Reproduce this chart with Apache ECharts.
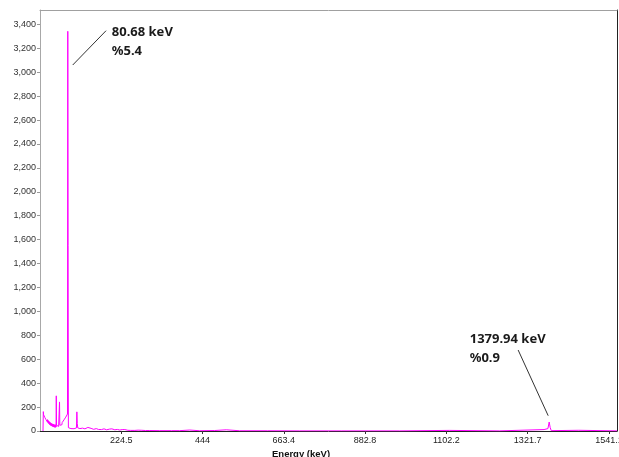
<!DOCTYPE html>
<html><head><meta charset="utf-8">
<script src="https://cdn.jsdelivr.net/npm/echarts@6/dist/echarts.min.js"></script>
<style>html,body{margin:0;padding:0;background:#fff}#c{width:619px;height:457px}</style>
</head><body><div id="c"></div>
<script>
// Spectrum: energy (keV) and counts
const energyKeV = [13.2,
  14.0, 14.8, 15.6, 16.4, 17.2, 18.0, 18.8, 19.6, 20.4, 21.2, 22.0, 22.8, 23.6, 24.4, 25.2, 26.0, 26.8, 27.6, 28.4, 29.2, 30.0, 30.8, 31.6, 32.4, 33.2, 34.0, 34.8, 35.6, 36.4, 37.2, 38.0, 38.8, 39.6, 40.4, 41.2, 42.0, 42.8, 43.6, 44.4, 45.2, 46.0, 46.8, 47.6, 48.4,
  49.0, 49.8, 50.6, 51.4, 52.2, 53.0, 53.8, 54.6, 55.4, 56.2, 57.0, 57.8, 58.6, 59.4, 60.2, 61.0, 61.8, 62.6, 63.4, 64.2, 65.0, 65.8, 66.6, 67.4, 68.2, 69.0, 69.8, 70.6, 71.4, 72.2, 73.0, 73.8, 74.6, 75.4, 76.2, 77.0, 77.8, 78.6, 79.3, 80.1, 80.9, 81.7,
  83.2, 85.5, 88.6, 91.0, 94.0, 97.0, 99.4, 103.5, 104.6, 105.7, 107.0, 110.0, 112.9, 116.0, 120, 123, 126.4, 130, 134.4, 137, 139.8, 143, 146, 150, 153.3, 157, 160, 163, 166.8, 171, 174.9, 178, 182, 185, 188.3, 193, 199.1, 203, 207.2, 211, 214, 217, 220.7, 227, 234.2, 238, 242.3, 250, 261.2, 270, 280, 290, 301.6, 328.5, 360, 382.4, 409.4, 436.3, 476.7, 508, 544, 620, 705, 820, 975, 1110, 1115, 1245, 1366, 1370, 1376.5, 1379.9, 1382.5, 1385.5, 1460, 1463, 1563];
const counts = [0,
  162, 136, 151, 125, 140, 114, 129, 104, 120, 95, 110, 86, 102, 78, 95, 72, 89, 66, 83, 60, 78, 55, 73, 51, 69, 47, 65, 44, 62, 41, 60, 39, 58, 37, 56, 34, 53, 32, 52, 31, 51, 31, 52, 33,
  294, 48, 36, 52, 38, 53, 39, 52, 38, 52, 42, 243, 48, 34, 52, 40, 58, 46, 64, 52, 71, 59, 78, 66, 86, 73, 93, 80, 100, 88, 108, 95, 116, 103, 124, 110, 132, 118, 142, 3342, 1550, 28,
  22, 26, 20, 25, 23, 19, 20, 26, 160, 62, 26, 22, 20, 25, 24, 18, 18, 24, 30, 15, 17, 22, 21, 14, 15, 20, 19, 13, 22, 12, 14, 18, 16, 10, 12, 16, 18, 9, 10, 14, 13, 7, 8, 12, 12, 5, 6, 5, 5, 7, 6, 4, 4, 3, 3, 3, 8, 2, 4, 10, 2, 2, 1, 1, 1, 5, 1, 1, 12, 2, 20, 75, 30, 3, 6, 1, 1];

const xTickValues = [224.5, 444.0, 663.4, 882.8, 1102.2, 1321.7, 1541.1];
const yTickValues = [0, 200, 400, 600, 800, 1000, 1200, 1400, 1600, 1800, 2000, 2200, 2400, 2600, 2800, 3000, 3200, 3400];

// Peak annotations (data coordinates: keV, counts)
const peakLabels   = ['80.68 keV\n%5.4', '1379.94 keV\n%0.9'];
const labelAnchors = [[198.9, 3410], [1165.3, 847]];
const leaderStarts = [[93.4, 3060], [1296.1, 677]];
const leaderEnds   = [[183.4, 3347], [1377.2, 128]];

const xMin = 5.07, xMax = 1563, yMin = 0, yMax = 3520;

const chart = echarts.init(document.getElementById('c'), null, {renderer: 'canvas'});
const fmtX = v => String(Number(v.toFixed(1)));
const fmtY = v => v.toLocaleString('en-US');

chart.setOption({
  animation: false,
  backgroundColor: '#ffffff',
  title: {
    text: 'Energy (keV)', left: 272, top: 449, padding: 0,
    textStyle: {fontSize: 9.5, fontWeight: 'bold', color: '#111', fontFamily: 'Liberation Sans, Arial, sans-serif'}
  },
  grid: {left: 40, right: 2, top: 10, bottom: 26, outerBoundsMode: 'none', containLabel: false},
  xAxis: [{
    type: 'value', min: xMin, max: xMax, position: 'bottom',
    axisLine: {show: true, onZero: false, lineStyle: {color: '#222', width: 1}},
    axisTick: {show: true, length: 3, customValues: xTickValues, lineStyle: {color: '#333'}},
    axisLabel: {show: true, customValues: xTickValues, formatter: fmtX, margin: 5, fontSize: 9, color: '#222', fontFamily: 'Liberation Sans, Arial, sans-serif', hideOverlap: false},
    splitLine: {show: false}
  }, {
    type: 'value', min: xMin, max: xMax, position: 'top',
    axisLine: {show: true, onZero: false, lineStyle: {color: '#a0a0a0', width: 1}},
    axisTick: {show: false}, axisLabel: {show: false}, splitLine: {show: false}
  }],
  yAxis: [{
    type: 'value', min: yMin, max: yMax, position: 'left',
    axisLine: {show: true, onZero: false, lineStyle: {color: '#a8a8a8', width: 1}},
    axisTick: {show: true, length: 3, customValues: yTickValues, lineStyle: {color: '#999'}},
    axisLabel: {show: true, customValues: yTickValues, formatter: fmtY, margin: 4, fontSize: 9, color: '#333', fontFamily: 'Liberation Sans, Arial, sans-serif'},
    splitLine: {show: false}
  }, {
    type: 'value', min: yMin, max: yMax, position: 'right',
    axisLine: {show: true, onZero: false, lineStyle: {color: '#222', width: 1}},
    axisTick: {show: false}, axisLabel: {show: false}, splitLine: {show: false}
  }],
  series: [{
    type: 'line',
    xAxisIndex: 0, yAxisIndex: 0,
    data: energyKeV.map((e, i) => [e, counts[i]]),
    showSymbol: false, symbol: 'none',
    sampling: null,
    lineStyle: {color: '#ff00ff', width: 1, join: 'bevel'},
    itemStyle: {color: '#ff00ff'},
    clip: true,
    markLine: {
      silent: true, symbol: ['none', 'none'],
      lineStyle: {color: '#333', width: 1, type: 'solid'},
      label: {show: false},
      data: leaderStarts.map((s, i) => [{coord: s}, {coord: leaderEnds[i]}])
    },
    markPoint: {
      silent: true, symbol: 'circle', symbolSize: 0,
      itemStyle: {color: 'rgba(0,0,0,0)'},
      label: {
        show: true, position: [0, 0], align: 'left', verticalAlign: 'top',
        formatter: p => peakLabels[p.dataIndex],
        fontSize: 13, fontWeight: 'bold', lineHeight: 19, color: '#1a1a1a',
        fontFamily: 'Noto Sans, Open Sans, sans-serif'
      },
      data: labelAnchors.map(c => ({coord: c}))
    }
  }]
});
</script>
</body></html>
